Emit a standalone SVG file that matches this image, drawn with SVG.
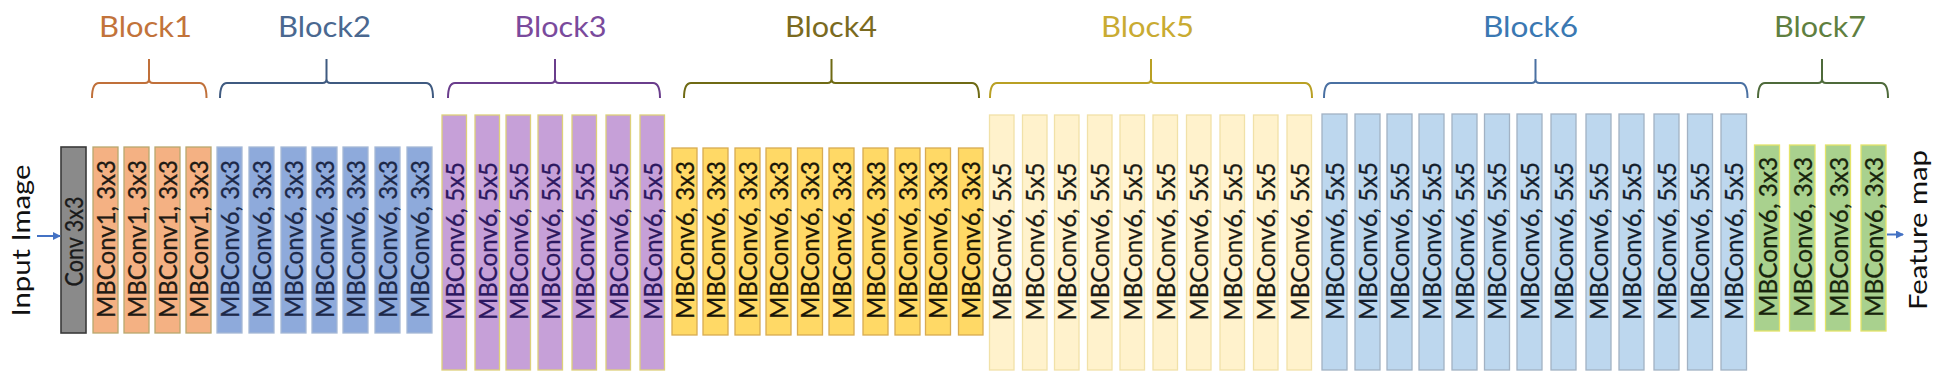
<svg xmlns="http://www.w3.org/2000/svg" width="1946" height="383" viewBox="0 0 1946 383">
<style>
text{font-family:Lato,"Open Sans","Liberation Sans",sans-serif}
.n text{font-size:25px;text-anchor:middle;stroke-width:0.3}
.n rect{stroke-width:1.3}
.conv rect{fill:#8a8a8a;stroke:#3a3a3a;stroke-width:1.6}
.conv text{fill:#1a1a1a;stroke:#1a1a1a}
.b1 rect{fill:#f4b183;stroke:#b9a86e}
.b1 text{fill:#1f1a14;stroke:#1f1a14}
.b2 rect{fill:#8eaadb;stroke:#a6b9d6}
.b2 text{fill:#1c2848;stroke:#1c2848}
.b3 rect{fill:#c6a0d8;stroke:#ddd07a}
.b3 text{fill:#2c1860;stroke:#2c1860}
.b4 rect{fill:#ffd966;stroke:#d8ab52}
.b4 text{fill:#1a1608;stroke:#1a1608}
.b5 rect{fill:#fff2cc;stroke:#f1e1a8}
.b5 text{fill:#1a1a14;stroke:#1a1a14}
.b6 rect{fill:#bdd7ee;stroke:#a2b2c4}
.b6 text{fill:#141e2c;stroke:#141e2c}
.b7 rect{fill:#a9d18e;stroke:#e4e46a}
.b7 text{fill:#18240c;stroke:#18240c}
.lbl text{font-size:29px;text-anchor:middle}
.br{fill:none;stroke-width:2}
.io{font-size:25px;text-anchor:middle;fill:#111}
.arr{stroke:#4472c4;stroke-width:2;fill:none}
</style>
<defs>
<marker id="ah" markerWidth="8" markerHeight="8" refX="7" refY="4" orient="auto" markerUnits="userSpaceOnUse"><path d="M0,0 L8,4 L0,8 z" fill="#4472c4"/></marker>
</defs>
<rect x="0" y="0" width="1946" height="383" fill="#ffffff"/>

<g id="labels" class="lbl">
<text x="145.5" y="37" fill="#c2733a" textLength="93" lengthAdjust="spacingAndGlyphs">Block1</text>
<text x="324.5" y="37" fill="#4a6890" textLength="93" lengthAdjust="spacingAndGlyphs">Block2</text>
<text x="560.5" y="37" fill="#7a4a9c" textLength="92" lengthAdjust="spacingAndGlyphs">Block3</text>
<text x="831" y="37" fill="#7a6a20" textLength="92" lengthAdjust="spacingAndGlyphs">Block4</text>
<text x="1147.5" y="37" fill="#c9ab32" textLength="93" lengthAdjust="spacingAndGlyphs">Block5</text>
<text x="1530.5" y="37" fill="#3a78b2" textLength="95" lengthAdjust="spacingAndGlyphs">Block6</text>
<text x="1820" y="37" fill="#5f7f40" textLength="92" lengthAdjust="spacingAndGlyphs">Block7</text>
</g>

<g id="brackets">
<path class="br" stroke="#c0703a" d="M92,98 Q92,83 99,83 H145 Q149,83 149,79 V59 V79 Q149,83 153,83 H199.5 Q206.5,83 206.5,98"/>
<path class="br" stroke="#3f5a80" d="M220,98 Q220,83 227,83 H322.5 Q326.5,83 326.5,79 V59 V79 Q326.5,83 330.5,83 H426 Q433,83 433,98"/>
<path class="br" stroke="#6a3d8c" d="M448,98 Q448,83 455,83 H551 Q555,83 555,79 V59 V79 Q555,83 559,83 H653 Q660,83 660,98"/>
<path class="br" stroke="#6f6a14" d="M684,98 Q684,83 691,83 H827.5 Q831.5,83 831.5,79 V59 V79 Q831.5,83 835.5,83 H972 Q979,83 979,98"/>
<path class="br" stroke="#b9a024" d="M990,98 Q990,83 997,83 H1147 Q1151,83 1151,79 V59 V79 Q1151,83 1155,83 H1305 Q1312,83 1312,98"/>
<path class="br" stroke="#4a70a2" d="M1324,98 Q1324,83 1331,83 H1531.5 Q1535.5,83 1535.5,79 V59 V79 Q1535.5,83 1539.5,83 H1740.5 Q1747.5,83 1747.5,98"/>
<path class="br" stroke="#4e6a3a" d="M1758,98 Q1758,83 1765,83 H1818 Q1822,83 1822,79 V59 V79 Q1822,83 1826,83 H1881 Q1888,83 1888,98"/>
</g>

<g id="input-label"><text class="io" transform="translate(29.5,240.5) rotate(-90)" textLength="152" lengthAdjust="spacingAndGlyphs">Input Image</text></g>
<g id="output-label"><text class="io" transform="translate(1927,230) rotate(-90)" textLength="160" lengthAdjust="spacingAndGlyphs">Feature map</text></g>

<g id="conv" class="n conv"><rect x="61" y="147" width="25" height="186"/><text transform="translate(83,241.5) rotate(-90)" textLength="90" lengthAdjust="spacingAndGlyphs">Conv 3x3</text></g>

<g id="block1">
<g id="b1-1" class="n b1"><rect x="93" y="147" width="25" height="186"/><text transform="translate(115,239) rotate(-90)" textLength="158" lengthAdjust="spacingAndGlyphs">MBConv1, 3x3</text></g>
<g id="b1-2" class="n b1"><rect x="124" y="147" width="25" height="186"/><text transform="translate(146,239) rotate(-90)" textLength="158" lengthAdjust="spacingAndGlyphs">MBConv1, 3x3</text></g>
<g id="b1-3" class="n b1"><rect x="155" y="147" width="25" height="186"/><text transform="translate(177,239) rotate(-90)" textLength="158" lengthAdjust="spacingAndGlyphs">MBConv1, 3x3</text></g>
<g id="b1-4" class="n b1"><rect x="186" y="147" width="25" height="186"/><text transform="translate(208,239) rotate(-90)" textLength="158" lengthAdjust="spacingAndGlyphs">MBConv1, 3x3</text></g>
</g>

<g id="block2">
<g id="b2-1" class="n b2"><rect x="217" y="147" width="25" height="186"/><text transform="translate(239,239) rotate(-90)" textLength="158" lengthAdjust="spacingAndGlyphs">MBConv6, 3x3</text></g>
<g id="b2-2" class="n b2"><rect x="249" y="147" width="25" height="186"/><text transform="translate(271,239) rotate(-90)" textLength="158" lengthAdjust="spacingAndGlyphs">MBConv6, 3x3</text></g>
<g id="b2-3" class="n b2"><rect x="281" y="147" width="25" height="186"/><text transform="translate(303,239) rotate(-90)" textLength="158" lengthAdjust="spacingAndGlyphs">MBConv6, 3x3</text></g>
<g id="b2-4" class="n b2"><rect x="312" y="147" width="25" height="186"/><text transform="translate(334,239) rotate(-90)" textLength="158" lengthAdjust="spacingAndGlyphs">MBConv6, 3x3</text></g>
<g id="b2-5" class="n b2"><rect x="343" y="147" width="25" height="186"/><text transform="translate(365,239) rotate(-90)" textLength="158" lengthAdjust="spacingAndGlyphs">MBConv6, 3x3</text></g>
<g id="b2-6" class="n b2"><rect x="375" y="147" width="25" height="186"/><text transform="translate(397,239) rotate(-90)" textLength="158" lengthAdjust="spacingAndGlyphs">MBConv6, 3x3</text></g>
<g id="b2-7" class="n b2"><rect x="407" y="147" width="25" height="186"/><text transform="translate(429,239) rotate(-90)" textLength="158" lengthAdjust="spacingAndGlyphs">MBConv6, 3x3</text></g>
</g>

<g id="block3">
<g id="b3-1" class="n b3"><rect x="442" y="115" width="24.5" height="255"/><text transform="translate(463.75,241) rotate(-90)" textLength="158" lengthAdjust="spacingAndGlyphs">MBConv6, 5x5</text></g>
<g id="b3-2" class="n b3"><rect x="475" y="115" width="24.5" height="255"/><text transform="translate(496.75,241) rotate(-90)" textLength="158" lengthAdjust="spacingAndGlyphs">MBConv6, 5x5</text></g>
<g id="b3-3" class="n b3"><rect x="506" y="115" width="24.5" height="255"/><text transform="translate(527.75,241) rotate(-90)" textLength="158" lengthAdjust="spacingAndGlyphs">MBConv6, 5x5</text></g>
<g id="b3-4" class="n b3"><rect x="538" y="115" width="24.5" height="255"/><text transform="translate(559.75,241) rotate(-90)" textLength="158" lengthAdjust="spacingAndGlyphs">MBConv6, 5x5</text></g>
<g id="b3-5" class="n b3"><rect x="572" y="115" width="24.5" height="255"/><text transform="translate(593.75,241) rotate(-90)" textLength="158" lengthAdjust="spacingAndGlyphs">MBConv6, 5x5</text></g>
<g id="b3-6" class="n b3"><rect x="606" y="115" width="24.5" height="255"/><text transform="translate(627.75,241) rotate(-90)" textLength="158" lengthAdjust="spacingAndGlyphs">MBConv6, 5x5</text></g>
<g id="b3-7" class="n b3"><rect x="640" y="115" width="24.5" height="255"/><text transform="translate(661.75,241) rotate(-90)" textLength="158" lengthAdjust="spacingAndGlyphs">MBConv6, 5x5</text></g>
</g>

<g id="block4">
<g id="b4-1" class="n b4"><rect x="672" y="148" width="25" height="187"/><text transform="translate(693.5,240) rotate(-90)" textLength="158" lengthAdjust="spacingAndGlyphs">MBConv6, 3x3</text></g>
<g id="b4-2" class="n b4"><rect x="703" y="148" width="25" height="187"/><text transform="translate(724.5,240) rotate(-90)" textLength="158" lengthAdjust="spacingAndGlyphs">MBConv6, 3x3</text></g>
<g id="b4-3" class="n b4"><rect x="735" y="148" width="25" height="187"/><text transform="translate(756.5,240) rotate(-90)" textLength="158" lengthAdjust="spacingAndGlyphs">MBConv6, 3x3</text></g>
<g id="b4-4" class="n b4"><rect x="766" y="148" width="25" height="187"/><text transform="translate(787.5,240) rotate(-90)" textLength="158" lengthAdjust="spacingAndGlyphs">MBConv6, 3x3</text></g>
<g id="b4-5" class="n b4"><rect x="797.5" y="148" width="25" height="187"/><text transform="translate(819,240) rotate(-90)" textLength="158" lengthAdjust="spacingAndGlyphs">MBConv6, 3x3</text></g>
<g id="b4-6" class="n b4"><rect x="829" y="148" width="25" height="187"/><text transform="translate(850.5,240) rotate(-90)" textLength="158" lengthAdjust="spacingAndGlyphs">MBConv6, 3x3</text></g>
<g id="b4-7" class="n b4"><rect x="863" y="148" width="25" height="187"/><text transform="translate(884.5,240) rotate(-90)" textLength="158" lengthAdjust="spacingAndGlyphs">MBConv6, 3x3</text></g>
<g id="b4-8" class="n b4"><rect x="895" y="148" width="25" height="187"/><text transform="translate(916.5,240) rotate(-90)" textLength="158" lengthAdjust="spacingAndGlyphs">MBConv6, 3x3</text></g>
<g id="b4-9" class="n b4"><rect x="925.5" y="148" width="25" height="187"/><text transform="translate(947,240) rotate(-90)" textLength="158" lengthAdjust="spacingAndGlyphs">MBConv6, 3x3</text></g>
<g id="b4-10" class="n b4"><rect x="958.5" y="148" width="24.5" height="187"/><text transform="translate(980,240) rotate(-90)" textLength="158" lengthAdjust="spacingAndGlyphs">MBConv6, 3x3</text></g>
</g>

<g id="block5">
<g id="b5-1" class="n b5"><rect x="989.5" y="115" width="24.5" height="255"/><text transform="translate(1011.25,241.5) rotate(-90)" textLength="158" lengthAdjust="spacingAndGlyphs">MBConv6, 5x5</text></g>
<g id="b5-2" class="n b5"><rect x="1022.5" y="115" width="24.5" height="255"/><text transform="translate(1044.25,241.5) rotate(-90)" textLength="158" lengthAdjust="spacingAndGlyphs">MBConv6, 5x5</text></g>
<g id="b5-3" class="n b5"><rect x="1054.5" y="115" width="24.5" height="255"/><text transform="translate(1076.25,241.5) rotate(-90)" textLength="158" lengthAdjust="spacingAndGlyphs">MBConv6, 5x5</text></g>
<g id="b5-4" class="n b5"><rect x="1087.5" y="115" width="24.5" height="255"/><text transform="translate(1109.25,241.5) rotate(-90)" textLength="158" lengthAdjust="spacingAndGlyphs">MBConv6, 5x5</text></g>
<g id="b5-5" class="n b5"><rect x="1120" y="115" width="24.5" height="255"/><text transform="translate(1141.75,241.5) rotate(-90)" textLength="158" lengthAdjust="spacingAndGlyphs">MBConv6, 5x5</text></g>
<g id="b5-6" class="n b5"><rect x="1153" y="115" width="24.5" height="255"/><text transform="translate(1174.75,241.5) rotate(-90)" textLength="158" lengthAdjust="spacingAndGlyphs">MBConv6, 5x5</text></g>
<g id="b5-7" class="n b5"><rect x="1186.5" y="115" width="24.5" height="255"/><text transform="translate(1208.25,241.5) rotate(-90)" textLength="158" lengthAdjust="spacingAndGlyphs">MBConv6, 5x5</text></g>
<g id="b5-8" class="n b5"><rect x="1220" y="115" width="24.5" height="255"/><text transform="translate(1241.75,241.5) rotate(-90)" textLength="158" lengthAdjust="spacingAndGlyphs">MBConv6, 5x5</text></g>
<g id="b5-9" class="n b5"><rect x="1253.5" y="115" width="24.5" height="255"/><text transform="translate(1275.25,241.5) rotate(-90)" textLength="158" lengthAdjust="spacingAndGlyphs">MBConv6, 5x5</text></g>
<g id="b5-10" class="n b5"><rect x="1287" y="115" width="24.5" height="255"/><text transform="translate(1308.75,241.5) rotate(-90)" textLength="158" lengthAdjust="spacingAndGlyphs">MBConv6, 5x5</text></g>
</g>

<g id="block6">
<g id="b6-1" class="n b6"><rect x="1322" y="114" width="25" height="256"/><text transform="translate(1343.5,241) rotate(-90)" textLength="158" lengthAdjust="spacingAndGlyphs">MBConv6, 5x5</text></g>
<g id="b6-2" class="n b6"><rect x="1355" y="114" width="25" height="256"/><text transform="translate(1376.5,241) rotate(-90)" textLength="158" lengthAdjust="spacingAndGlyphs">MBConv6, 5x5</text></g>
<g id="b6-3" class="n b6"><rect x="1387" y="114" width="25" height="256"/><text transform="translate(1408.5,241) rotate(-90)" textLength="158" lengthAdjust="spacingAndGlyphs">MBConv6, 5x5</text></g>
<g id="b6-4" class="n b6"><rect x="1419" y="114" width="25" height="256"/><text transform="translate(1440.5,241) rotate(-90)" textLength="158" lengthAdjust="spacingAndGlyphs">MBConv6, 5x5</text></g>
<g id="b6-5" class="n b6"><rect x="1452" y="114" width="25" height="256"/><text transform="translate(1473.5,241) rotate(-90)" textLength="158" lengthAdjust="spacingAndGlyphs">MBConv6, 5x5</text></g>
<g id="b6-6" class="n b6"><rect x="1484.5" y="114" width="25" height="256"/><text transform="translate(1506,241) rotate(-90)" textLength="158" lengthAdjust="spacingAndGlyphs">MBConv6, 5x5</text></g>
<g id="b6-7" class="n b6"><rect x="1517" y="114" width="25" height="256"/><text transform="translate(1538.5,241) rotate(-90)" textLength="158" lengthAdjust="spacingAndGlyphs">MBConv6, 5x5</text></g>
<g id="b6-8" class="n b6"><rect x="1551" y="114" width="25" height="256"/><text transform="translate(1572.5,241) rotate(-90)" textLength="158" lengthAdjust="spacingAndGlyphs">MBConv6, 5x5</text></g>
<g id="b6-9" class="n b6"><rect x="1586" y="114" width="25" height="256"/><text transform="translate(1607.5,241) rotate(-90)" textLength="158" lengthAdjust="spacingAndGlyphs">MBConv6, 5x5</text></g>
<g id="b6-10" class="n b6"><rect x="1619" y="114" width="25" height="256"/><text transform="translate(1640.5,241) rotate(-90)" textLength="158" lengthAdjust="spacingAndGlyphs">MBConv6, 5x5</text></g>
<g id="b6-11" class="n b6"><rect x="1654" y="114" width="25" height="256"/><text transform="translate(1675.5,241) rotate(-90)" textLength="158" lengthAdjust="spacingAndGlyphs">MBConv6, 5x5</text></g>
<g id="b6-12" class="n b6"><rect x="1687.5" y="114" width="25" height="256"/><text transform="translate(1709,241) rotate(-90)" textLength="158" lengthAdjust="spacingAndGlyphs">MBConv6, 5x5</text></g>
<g id="b6-13" class="n b6"><rect x="1721" y="114" width="25.5" height="256"/><text transform="translate(1742.5,241) rotate(-90)" textLength="158" lengthAdjust="spacingAndGlyphs">MBConv6, 5x5</text></g>
</g>

<g id="block7">
<g id="b7-1" class="n b7"><rect x="1754.5" y="145" width="25" height="186"/><text transform="translate(1776.5,237) rotate(-90)" textLength="160" lengthAdjust="spacingAndGlyphs">MBConv6, 3x3</text></g>
<g id="b7-2" class="n b7"><rect x="1789.5" y="145" width="25.5" height="186"/><text transform="translate(1811.5,237) rotate(-90)" textLength="160" lengthAdjust="spacingAndGlyphs">MBConv6, 3x3</text></g>
<g id="b7-3" class="n b7"><rect x="1825.5" y="145" width="25" height="186"/><text transform="translate(1847.5,237) rotate(-90)" textLength="160" lengthAdjust="spacingAndGlyphs">MBConv6, 3x3</text></g>
<g id="b7-4" class="n b7"><rect x="1861" y="145" width="25" height="186"/><text transform="translate(1883,237) rotate(-90)" textLength="160" lengthAdjust="spacingAndGlyphs">MBConv6, 3x3</text></g>
</g>

<g id="connectors">
<line class="arr" x1="37" y1="236" x2="60" y2="236" marker-end="url(#ah)"/>
<line class="arr" x1="1887" y1="234.5" x2="1903" y2="234.5" marker-end="url(#ah)"/>
</g>
</svg>
